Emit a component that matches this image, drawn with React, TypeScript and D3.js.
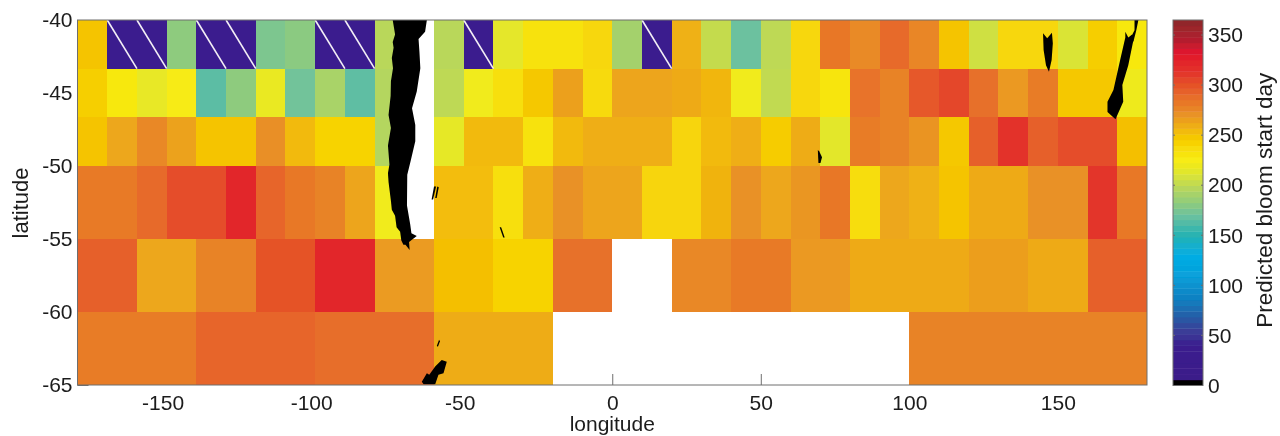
import React, { useEffect, useRef } from 'react';
import * as d3 from 'd3';

// bloom start day per cell, west to east, null = no data
const row1 = [250, 40, 40, 182, 40, 40, 176, 181, 40, 40, 198, null, 198, 40, 215, 232, 232, 240, 190, 40, 258, 202, 170, 200, 240, 283, 274, 290, 276, 250, 206, 240, 240, 210, 245, 228];
const row2 = [244, 228, 217, 226, 165, 182, 218, 172, 192, 166, 196, null, 200, 222, 234, 248, 265, 238, 263, 263, 261, 256, 222, 201, 240, 230, 285, 277, 297, 305, 287, 268, 280, 248, 248, 220];
const row3 = [250, 262, 275, 264, 250, 250, 272, 254, 242, 242, 196, null, 216, 254, 254, 232, 254, 259, 259, 259, 241, 254, 259, 246, 260, 214, 280, 277, 270, 248, 294, 316, 294, 302, 302, 252];
const row4 = [281, 281, 290, 302, 302, 322, 292, 282, 277, 263, 222, null, 253, 253, 234, 259, 271, 263, 263, 241, 241, 257, 271, 262, 269, 283, 236, 262, 258, 250, 261, 261, 271, 271, 312, 282];
const row5 = [294, 262, 277, 300, 322, 267, 252, 242, 286, null, 275, 281, 268, 261, 261, 266, 261, 294];
const row6 = [280, 292, 288, 260, null, null, null, 277, 277];

const rows = [row1, row2, row3, row4, row5, row6];
const latEdges = [-40, -43.33, -46.67, -50, -55, -60, -65];

const lonTicks = [-150, -100, -50, 0, 50, 100, 150];
const latTicks = [-40, -45, -50, -55, -60, -65];
const dayTicks = [0, 50, 100, 150, 200, 250, 300, 350];

const colorDays = [0, 4.9, 5, 40, 55, 70, 85, 110, 130, 150, 170, 182, 198, 212, 225, 240, 250, 260, 272, 280, 290, 300, 312, 325, 332, 345, 365];
const colorHex = ['#000000', '#000000', '#3a1a88', '#3a1e8e', '#3a3f98', '#2460a8', '#0f7dbf', '#07a0da', '#02ade4', '#26b2b2', '#6cc19f', '#8ecb7e', '#b9d75a', '#dfe630', '#f7ec13', '#f7d708', '#f5c400', '#eeac18', '#e98f26', '#e87c27', '#e76a2a', '#e55228', '#e3362b', '#e2232b', '#e2132d', '#b41f2e', '#8b2a2a'];

// coastlines traced as [lon, lat]
const southAmerica = [[-73.9, -40], [-73.1, -41], [-73.9, -41.5], [-73.6, -41.9], [-74.2, -42.6], [-73.8, -43.3], [-74.5, -44.2], [-74.6, -45.2], [-75.3, -46.5], [-74.5, -47.4], [-75.5, -48.6], [-75, -49.9], [-75.5, -50.5], [-75.3, -51.1], [-74.5, -52.4], [-74.2, -53], [-73.1, -53.4], [-72.6, -54.2], [-71.4, -54.5], [-71, -55.1], [-70.3, -55.4], [-69.6, -55.4], [-68.2, -55.75], [-68.4, -55.2], [-65.8, -54.8], [-67.6, -54.6], [-68, -54], [-69.1, -52.7], [-69, -50.6], [-67.8, -49.6], [-66.3, -48.3], [-66.3, -47.2], [-67.4, -46.05], [-65.8, -44.9], [-64.6, -43.3], [-64.9, -42.2], [-65.2, -41.3], [-63, -40.8], [-62.4, -40]];
const falkland1 = [[-60, -51.4], [-59.3, -51.4], [-60.3, -52.3], [-60.8, -52.3]];
const falkland2 = [[-58.9, -51.4], [-58.4, -51.45], [-59.1, -52.2], [-59.6, -52.2]];
const southGeorgia = [[-37.9, -54.2], [-37.4, -54.2], [-36.2, -54.9], [-36.7, -54.9]];
const kerguelen = [[69.2, -48.9], [69.7, -49], [70.6, -49.4], [70.1, -49.8], [69.4, -49.8]];
const tasmania = [[145, -40.9], [146.4, -41.25], [148, -40.87], [148.3, -41.6], [147.9, -42.74], [147, -43.54], [146, -43.1], [145.2, -42.05]];
const nzSouth = [[172.7, -40.8], [173.7, -41.2], [175, -41], [175.4, -41.4], [173.7, -43.1], [171.7, -44.45], [172, -45.6], [169.4, -46.8], [166.7, -46.3], [166.7, -45.6], [168.7, -44.8], [171, -42.7], [172.7, -41.2]];
const nzNorth = [[175.8, -40], [177.1, -40], [176.4, -40.7], [175.4, -41.5], [174.8, -41.1], [175.8, -40.7]];
const peninsula = [[-64.1, -64.77], [-62.4, -64.2], [-61.6, -64.3], [-59.6, -63.74], [-57.4, -63.29], [-55.7, -63.4], [-56.8, -64.2], [-58.5, -64.3], [-59.6, -64.95], [-63.5, -64.95]];
const shetland = [[-59, -62.3], [-58.3, -61.9], [-58, -62], [-58.7, -62.4]];
const landShapes = [southAmerica, falkland1, falkland2, southGeorgia, kerguelen, tasmania, nzSouth, nzNorth, peninsula, shetland];

const App = () => {
  const svgRef = useRef<SVGSVGElement>(null);

  useEffect(() => {
    const svg = d3.select(svgRef.current);
    svg.selectAll('*').remove();

    const x = d3.scaleLinear().domain([-180, 180]).range([77.5, 1147]);
    const y = d3.scaleLinear().domain([-40, -65]).range([20, 385]);
    const day = d3.scaleLinear().domain([0, 365]).range([385.5, 20]);
    const color = d3.scaleLinear<string>().domain(colorDays).range(colorHex).interpolate(d3.interpolateRgb).clamp(true);
    const font = '"Liberation Sans", Arial, sans-serif';
    const axisColor = '#6e6e6e';
    const textColor = '#1c1c1c';

    const chart = svg.append('g').attr('filter', 'url(#soft)');
    svg.append('defs').append('filter').attr('id', 'soft').append('feGaussianBlur').attr('stdDeviation', 0.45);

    // plain hyphen in the labels, d3.format would give a real minus sign
    const label = d => String(d);

    // ticks go under the cells, they only show where there is no data
    const xAxis = d3.axisBottom(x).tickValues(lonTicks).tickFormat(label).tickSizeInner(-11).tickSizeOuter(0).tickPadding(10);
    const yAxis = d3.axisLeft(y).tickValues(latTicks).tickFormat(label).tickSizeInner(-11).tickSizeOuter(0).tickPadding(5);
    const axisX = chart.append('g').attr('transform', 'translate(0,385)').call(xAxis);
    const axisY = chart.append('g').attr('transform', 'translate(77.5,0)').call(yAxis);
    [axisX, axisY].forEach(a => {
      a.selectAll('text').attr('font-family', font).attr('font-size', 21).attr('fill', textColor);
      a.selectAll('line').attr('stroke', axisColor);
      a.select('.domain').remove();
    });
    // negative labels sit a little left of their tick
    axisX.selectAll('text').attr('dx', d => (d < 0 ? -4 : 0));

    rows.forEach((values, r) => {
      const step = 360 / values.length;
      const g = chart.append('g').attr('shape-rendering', 'crispEdges');
      values.forEach((v, i) => {
        if (v === null) return;
        const x0 = Math.round(x(-180 + i * step));
        const x1 = Math.round(x(-180 + (i + 1) * step));
        const y0 = Math.round(y(latEdges[r]));
        const y1 = Math.round(y(latEdges[r + 1]));
        g.append('rect')
          .attr('x', x0)
          .attr('y', y0)
          .attr('width', x1 - x0)
          .attr('height', y1 - y0)
          .attr('fill', color(v));
      });
    });

    // very early cells carry a white diagonal
    rows.forEach((values, r) => {
      const step = 360 / values.length;
      values.forEach((v, i) => {
        if (v === null || v >= 50) return;
        chart
          .append('line')
          .attr('x1', x(-180 + i * step))
          .attr('y1', y(latEdges[r]))
          .attr('x2', x(-180 + (i + 1) * step))
          .attr('y2', y(latEdges[r + 1]))
          .attr('stroke', '#f4eef6')
          .attr('stroke-width', 1.6);
      });
    });

    const land = d3.line().x(d => x(d[0])).y(d => y(d[1])).curve(d3.curveLinearClosed);
    chart
      .append('g')
      .selectAll('path')
      .data(landShapes)
      .enter()
      .append('path')
      .attr('d', d => land(d as [number, number][]))
      .attr('fill', '#000');

    // frame
    chart
      .append('rect')
      .attr('x', x(-180))
      .attr('y', y(-40))
      .attr('width', x(180) - x(-180))
      .attr('height', y(-65) - y(-40))
      .attr('fill', 'none')
      .attr('stroke', axisColor)
      .attr('stroke-width', 1);

    chart
      .append('text')
      .attr('x', x(0))
      .attr('y', 431)
      .attr('text-anchor', 'middle')
      .attr('font-family', font)
      .attr('font-size', 21)
      .attr('fill', textColor)
      .text('longitude');
    chart
      .append('text')
      .attr('transform', 'translate(28,203) rotate(-90)')
      .attr('text-anchor', 'middle')
      .attr('font-family', font)
      .attr('font-size', 22)
      .attr('fill', textColor)
      .text('latitude');

    // colorbar
    const barX = 1173;
    const barW = 30;
    const bands = d3.range(0, 64);
    const bandH = 365 / 64;
    chart
      .append('g')
      .selectAll('rect')
      .data(bands)
      .enter()
      .append('rect')
      .attr('x', barX)
      .attr('y', d => day((d + 1) * bandH))
      .attr('width', barW)
      .attr('height', (day(0) - day(365)) / 64 + 0.4)
      .attr('fill', d => color((d + 0.5) * bandH));
    const dayAxis = d3.axisRight(day).tickValues(dayTicks).tickSizeInner(0).tickSizeOuter(0).tickPadding(barW + 5);
    const axisD = chart.append('g').attr('transform', `translate(${barX},0)`).call(dayAxis);
    axisD.selectAll('text').attr('font-family', font).attr('font-size', 21).attr('fill', textColor);
    axisD.select('.domain').remove();
    dayTicks.forEach(t => {
      chart.append('line').attr('x1', barX).attr('x2', barX + 2).attr('y1', day(t)).attr('y2', day(t)).attr('stroke', axisColor);
      chart.append('line').attr('x1', barX + barW - 2).attr('x2', barX + barW).attr('y1', day(t)).attr('y2', day(t)).attr('stroke', axisColor);
    });
    chart
      .append('rect')
      .attr('x', barX)
      .attr('y', day(365))
      .attr('width', barW)
      .attr('height', day(0) - day(365))
      .attr('fill', 'none')
      .attr('stroke', axisColor);
    chart
      .append('text')
      .attr('transform', `translate(1272,${day(185)}) rotate(-90)`)
      .attr('text-anchor', 'middle')
      .attr('font-family', font)
      .attr('font-size', 22.5)
      .attr('fill', textColor)
      .text('Predicted bloom start day');
  }, []);

  return <svg ref={svgRef} width={1280} height={436} style={{ position: 'absolute', left: 0, top: 0 }} />;
};

export default App;
